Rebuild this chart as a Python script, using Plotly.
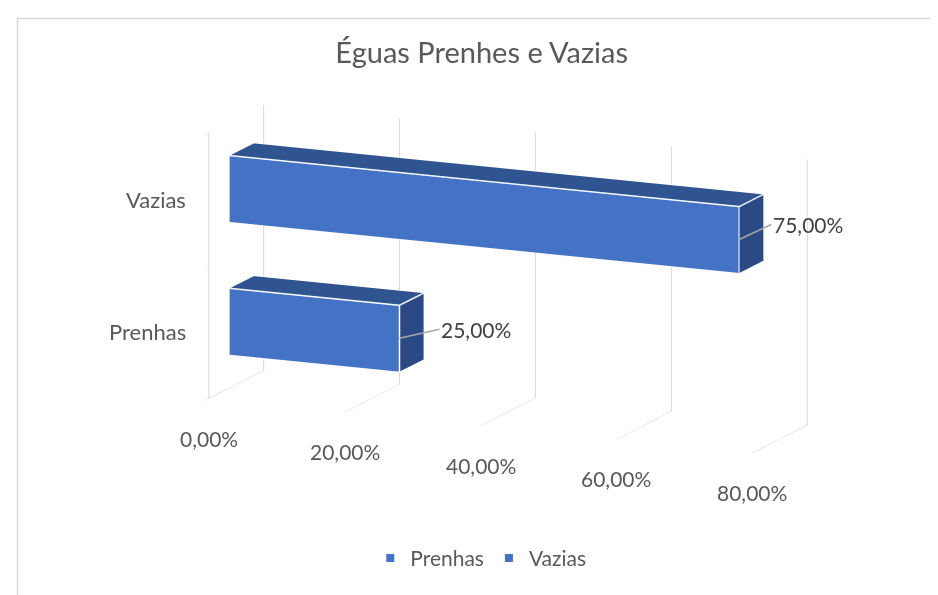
import plotly.graph_objects as go

# ---- data ----
categories = ["Prenhas", "Vazias"]
values = [0.25, 0.75]
value_labels = ["25,00%", "75,00%"]
x_tickvals = [0.0, 0.2, 0.4, 0.6, 0.8]
x_ticktext = ["0,00%", "20,00%", "40,00%", "60,00%", "80,00%"]
title_text = "Éguas Prenhes e Vazias"

FRONT = "#4472C4"
TOP = "#30548F"
SIDE = "#2B4A85"
TXT = "#595959"
GRID = "#D9D9D9"
FONT = "Lato"

BAR_Y = (0.38, 0.82)   # depth band of the bars
BAR_H = 0.25           # half height of a bar within its category slot


def box_mesh(x1, zc, name):
    y0, y1 = BAR_Y
    z0, z1 = zc - BAR_H, zc + BAR_H
    x0 = 0.0
    X = [x0, x1, x1, x0, x0, x1, x1, x0]
    Y = [y0, y0, y1, y1, y0, y0, y1, y1]
    Z = [z0, z0, z0, z0, z1, z1, z1, z1]
    faces = [
        (0, 1, 5, FRONT), (0, 5, 4, FRONT),      # front (y0)
        (4, 5, 6, TOP), (4, 6, 7, TOP),          # top (z1)
        (1, 2, 6, SIDE), (1, 6, 5, SIDE),        # end (x1)
        (0, 3, 2, FRONT), (0, 2, 1, FRONT),      # bottom
        (3, 7, 6, FRONT), (3, 6, 2, FRONT),      # back
        (0, 4, 7, FRONT), (0, 7, 3, FRONT),      # start
    ]
    mesh = go.Mesh3d(
        x=X, y=Y, z=Z,
        i=[f[0] for f in faces], j=[f[1] for f in faces], k=[f[2] for f in faces],
        facecolor=[f[3] for f in faces], flatshading=True,
        lighting=dict(ambient=1, diffuse=0, specular=0, roughness=1, fresnel=0),
        name=name, showlegend=False, hoverinfo="skip",
    )
    ex, ey, ez = [], [], []
    edges = [(0, 1), (1, 5), (5, 4), (4, 0), (4, 7), (7, 6), (6, 5), (1, 2), (2, 6)]
    for a, b in edges:
        ex += [X[a], X[b], None]
        ey += [Y[a], Y[b], None]
        ez += [Z[a], Z[b], None]
    line = go.Scatter3d(x=ex, y=ey, z=ez, mode="lines",
                        line=dict(color="white", width=3),
                        showlegend=False, hoverinfo="skip")
    return mesh, line


fig = go.Figure()
zcenters = [0.5 + i for i in range(len(categories))]
for cat, v, zc in zip(categories, values, zcenters):
    m, l = box_mesh(v, zc, cat)
    fig.add_trace(m)
    fig.add_trace(l)

# legend entries
for cat in categories:
    fig.add_trace(go.Scatter(x=[None], y=[None], mode="markers", name=cat,
                             marker=dict(symbol="square", size=8, color=FRONT)))

ann = []
for v, lab, zc, (axp, ayp) in zip(values, value_labels, zcenters, [(40, -9), (32, -15)]):
    ann.append(dict(
        x=v, y=BAR_Y[0], z=zc, text=lab, showarrow=True, arrowhead=0,
        arrowcolor="#A6A6A6", arrowwidth=1.5, ax=axp, ay=ayp, xanchor="left",
        font=dict(family=FONT, size=21, color="#404040")))
for tv, tt in zip(x_tickvals, x_ticktext):
    ann.append(dict(x=tv, y=0, z=0, text=tt, showarrow=False, xanchor="center",
                    yanchor="middle", yshift=-40,
                    font=dict(family=FONT, size=21, color=TXT)))
for zc, cat in zip(zcenters, categories):
    ann.append(dict(x=0, y=0, z=zc, text=cat, showarrow=False, xanchor="right",
                    yanchor="middle", xshift=-21,
                    font=dict(family=FONT, size=22, color=TXT)))

axis_common = dict(showbackground=False, showspikes=False, title=dict(text=""),
                   zeroline=False, showticklabels=False)

EYE_D = 1.6
fig.update_layout(
    template="none",
    width=938, height=595,
    margin=dict(l=0, r=0, t=0, b=0),
    paper_bgcolor="white", plot_bgcolor="white",
    font=dict(family=FONT, color=TXT),
    title=dict(text=title_text, x=0.505, xanchor="center", y=0.925, yanchor="middle",
               font=dict(family=FONT, size=29, color=TXT)),
    showlegend=True,
    legend=dict(orientation="h", x=0.504, xanchor="center", y=0.075, yanchor="middle",
                font=dict(family=FONT, size=21, color=TXT), itemwidth=30,
                bgcolor="rgba(0,0,0,0)"),
    xaxis=dict(visible=False), yaxis=dict(visible=False),
    scene=dict(
        domain=dict(x=[0.083, 0.983], y=[0.125, 0.965]),
        xaxis=dict(range=[0, 0.8], tickvals=x_tickvals,
                   showgrid=True, gridcolor=GRID, gridwidth=2, showline=False,
                   ticks="", **axis_common),
        yaxis=dict(range=[0, 1], showgrid=False, showline=False,
                   ticks="", **axis_common),
        zaxis=dict(range=[0, len(categories)], tickvals=[0, 1, 2],
                   showgrid=False, showline=True, linecolor=GRID, linewidth=2,
                   ticks="outside", ticklen=6, tickcolor=GRID, **axis_common),
        aspectmode="manual", aspectratio=dict(x=2.38, y=0.54, z=1.09),
        camera=dict(eye=dict(x=0.396 * EYE_D, y=-0.890 * EYE_D, z=0.225 * EYE_D),
                    center=dict(x=0, y=0, z=0),
                    projection=dict(type="orthographic")),
        annotations=ann,
    ),
    shapes=[dict(type="rect", xref="paper", yref="paper",
                 x0=9.5 / 938, x1=1.2, y0=-0.2, y1=1 - 10.5 / 595,
                 line=dict(color=GRID, width=1.5))],
)

fig.write_html("out.html")
